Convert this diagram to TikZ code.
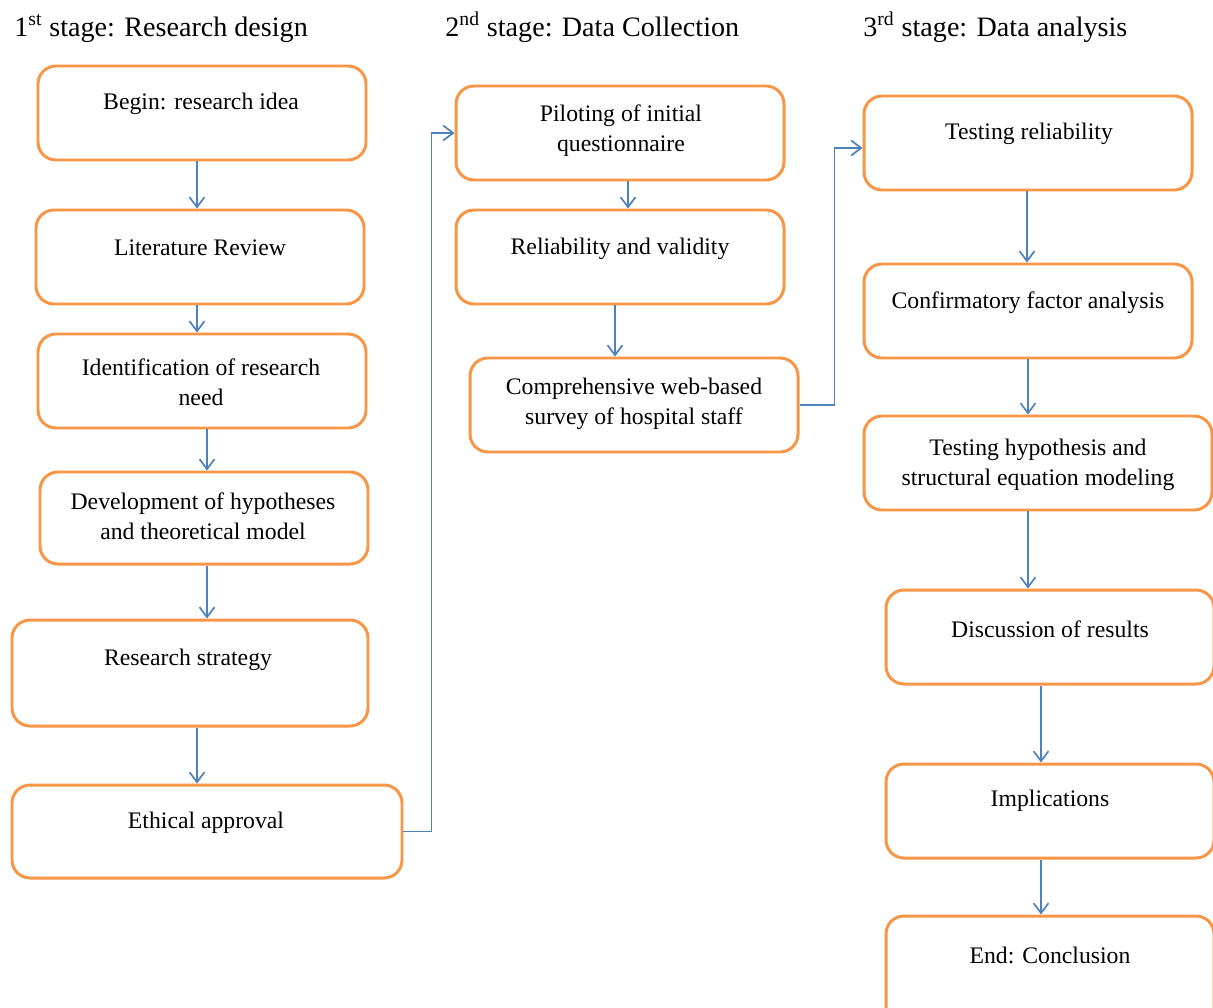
\documentclass[tikz,border=0pt]{standalone}
\usepackage{fontspec}
\setmainfont{Liberation Serif}
\usetikzlibrary{arrows.meta,calc,fit}
\definecolor{boxorange}{HTML}{F79646}
\definecolor{arrowblue}{HTML}{4F81BD}
\begin{document}
\begin{tikzpicture}[x=0.02cm,y=-0.02cm,
  stagebox/.style={draw=boxorange, line width=1.7pt, rounded corners=0.36cm,
    inner sep=0pt, fill=white},
  boxtext/.style={align=center, inner sep=0pt,
    font=\fontsize{13.5}{17}\selectfont},
  heading/.style={anchor=base west, inner sep=0pt,
    font=\fontsize{16}{19}\selectfont},
  flow/.style={draw=arrowblue, line width=0.95pt,
    -{Straight Barb[length=0.2cm,width=0.3cm,line width=0.95pt]}}]
\useasboundingbox (0,0) rectangle (1213,1007);
\clip (0,0) rectangle (1213,1007);
\fill[white] (0,0) rectangle (1213,1007);

% stage headings
\node[heading] (h1) at (14,37) {1\textsuperscript{st} stage: Research design};
\node[heading] (h2) at (445,37) {2\textsuperscript{nd} stage: Data Collection};
\node[heading] (h3) at (863,37) {3\textsuperscript{rd} stage: Data analysis};

% 1st stage
\node[stagebox, fit={(38,66) (366,160)}] (b1) {};
\node[boxtext] (t1) at (201,104) {Begin: research idea};
\node[stagebox, fit={(36,210) (364,304)}] (b2) {};
\node[boxtext] (t2) at (200,248) {Literature Review};
\node[stagebox, fit={(38,334) (366,428)}] (b3) {};
\node[boxtext] (t3) at (201,382) {Identification of research\\need};
\node[stagebox, fit={(40,472) (368,564)}] (b4) {};
\node[boxtext] (t4) at (203,516) {Development of hypotheses\\and theoretical model};
\node[stagebox, fit={(12,620) (368,726)}] (b5) {};
\node[boxtext] (t5) at (188,660) {Research strategy};
\node[stagebox, fit={(12,785) (402,878)}] (b6) {};
\node[boxtext] (t6) at (206,823) {Ethical approval};

% 2nd stage
\node[stagebox, fit={(456,86) (784,180)}] (b7) {};
\node[boxtext] (t7) at (621,131) {Piloting of initial\\questionnaire};
\node[stagebox, fit={(456,210) (784,304)}] (b8) {};
\node[boxtext] (t8) at (620,249) {Reliability and validity};
\node[stagebox, fit={(470,358) (798,452)}] (b9) {};
\node[boxtext] (t9) at (634,404) {Comprehensive web-based\\survey of hospital staff};

% 3rd stage
\node[stagebox, fit={(864,96) (1192,190)}] (b10) {};
\node[boxtext] (t10) at (1029,134) {Testing reliability};
\node[stagebox, fit={(864,264) (1192,358)}] (b11) {};
\node[boxtext] (t11) at (1028,303) {Confirmatory factor analysis};
\node[stagebox, fit={(864,416) (1212,510)}] (b12) {};
\node[boxtext] (t12) at (1038,465) {Testing hypothesis and\\structural equation modeling};
\node[stagebox, fit={(886,590) (1214,684)}] (b13) {};
\node[boxtext] (t13) at (1050,629) {Discussion of results};
\node[stagebox, fit={(886,764) (1214,858)}] (b14) {};
\node[boxtext] (t14) at (1050,801) {Implications};
\node[stagebox, fit={(886,916) (1214,1030)}] (b15) {};
\node[boxtext] (t15) at (1050,955) {End: Conclusion};

% connectors
\draw[flow] ($(b1.south)+(-5,0)$) -- ($(b1.south |- b2.north)+(-5,0)$);
\draw[flow] ($(b2.south)+(-3,0)$) -- ($(b2.south |- b3.north)+(-3,0)$);
\draw[flow] ($(b3.south)+(5,0)$) -- ($(b3.south |- b4.north)+(5,0)$);
\draw[flow] ($(b4.south)+(3,0)$) -- ($(b4.south |- b5.north)+(3,0)$);
\draw[flow] ($(b5.south)+(7,0)$) -- ($(b5.south |- b6.north)+(7,0)$);
\draw[flow] (b6.east) -- ++(28,0) |- (b7.west);
\draw[flow] ($(b7.south)+(8,0)$) -- ($(b7.south |- b8.north)+(8,0)$);
\draw[flow] ($(b8.south)+(-5,0)$) -- ($(b8.south |- b9.north)+(-5,0)$);
\draw[flow] (b9.east) -- ++(35,0) |- ($(b10.west)+(0,5)$);
\draw[flow] ($(b10.south)+(-1,0)$) -- ($(b10.south |- b11.north)+(-1,0)$);
\draw[flow] (b11.south) -- (b11.south |- b12.north);
\draw[flow] ($(b12.south)+(-10,0)$) -- ($(b12.south |- b13.north)+(-10,0)$);
\draw[flow] ($(b13.south)+(-9,0)$) -- ($(b13.south |- b14.north)+(-9,0)$);
\draw[flow] ($(b14.south)+(-9,0)$) -- ($(b14.south |- b15.north)+(-9,0)$);
\end{tikzpicture}
\end{document}
